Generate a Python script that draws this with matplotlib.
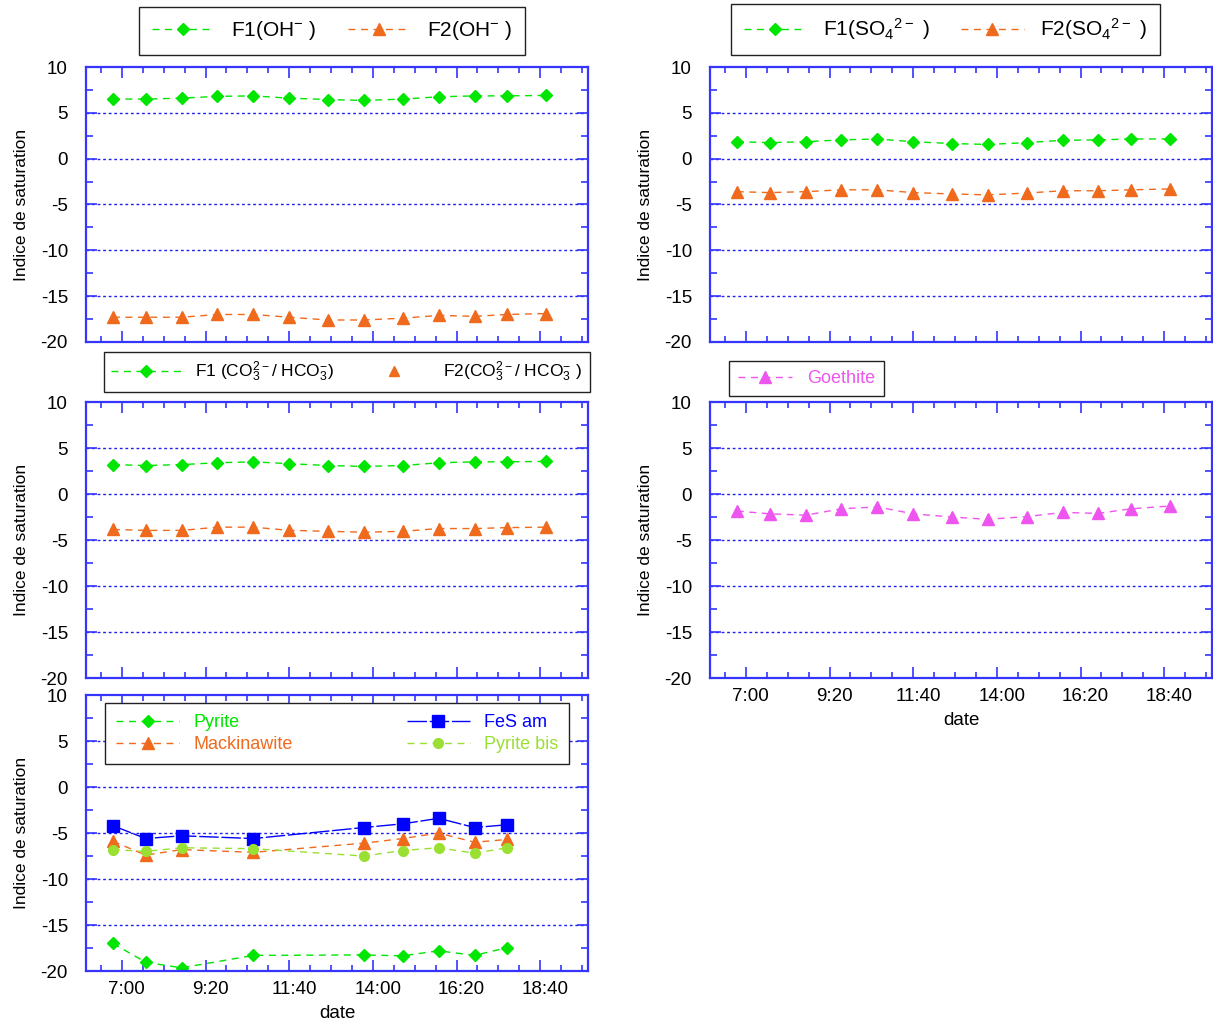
import numpy as np
import matplotlib
matplotlib.use("Agg")
import matplotlib.pyplot as plt
import matplotlib.transforms as mtrans
from matplotlib.ticker import MultipleLocator, FuncFormatter
from matplotlib.lines import Line2D

plt.rcParams['font.family'] = ['Liberation Sans', 'DejaVu Sans']
plt.rcParams['mathtext.fontset'] = 'custom'
plt.rcParams['mathtext.rm'] = 'Liberation Sans'
plt.rcParams['mathtext.default'] = 'regular'
plt.rcParams['axes.unicode_minus'] = False

# heures des prélèvements
heures = ["6:45", "7:40", "8:40", "9:40", "10:40", "11:40", "12:45",
          "13:45", "14:50", "15:50", "16:50", "17:45", "18:50"]
heures_sulfures = ["6:45", "7:40", "8:40", "10:40", "13:45",
                   "14:50", "15:50", "16:50", "17:45"]

# indices de saturation
f1_oh = [6.5, 6.5, 6.6, 6.8, 6.85, 6.6, 6.45, 6.35, 6.5, 6.75, 6.85, 6.85, 6.9]
f2_oh = [-17.3, -17.3, -17.3, -17.0, -17.0, -17.3, -17.6, -17.6, -17.4, -17.1, -17.2, -17.0, -16.9]
f1_so4 = [1.85, 1.75, 1.85, 2.05, 2.15, 1.85, 1.65, 1.55, 1.75, 2.0, 2.05, 2.15, 2.15]
f2_so4 = [-3.6, -3.7, -3.6, -3.4, -3.4, -3.7, -3.85, -3.95, -3.75, -3.5, -3.5, -3.4, -3.3]
f1_co3 = [3.2, 3.1, 3.2, 3.4, 3.5, 3.3, 3.1, 3.0, 3.1, 3.4, 3.5, 3.5, 3.55]
f2_co3 = [-3.85, -3.95, -3.95, -3.6, -3.6, -3.95, -4.05, -4.15, -4.05, -3.75, -3.75, -3.65, -3.6]
goethite = [-1.85, -2.15, -2.3, -1.6, -1.4, -2.15, -2.5, -2.75, -2.45, -2.0, -2.1, -1.6, -1.3]
pyrite = [-17.0, -19.05, -19.65, -18.3, -18.25, -18.35, -17.8, -18.3, -17.45]
mackinawite = [-5.9, -7.4, -6.8, -7.1, -6.1, -5.6, -5.0, -6.0, -5.7]
fes_am = [-4.2, -5.6, -5.3, -5.6, -4.4, -4.0, -3.4, -4.4, -4.1]
pyrite_bis = [-6.8, -7.0, -6.6, -6.7, -7.5, -6.9, -6.6, -7.2, -6.6]

VERT = '#00e600'
ORANGE = '#f06a1e'
BLEU = '#0000ff'
JAUNE = '#99e033'
VIOLET = '#ee55ee'
CADRE = '#3535ff'


def en_minutes(liste):
    return [int(h.split(":")[0]) * 60 + int(h.split(":")[1]) for h in liste]


def fmt_heure(x, pos):
    x = int(round(x))
    return f"{x // 60}:{x % 60:02d}"


t = en_minutes(heures)
ts = en_minutes(heures_sulfures)


def habiller(ax, labels_x=False):
    ax.set_xlim(360, 1200)
    ax.set_ylim(-20, 10)
    ax.xaxis.set_major_locator(MultipleLocator(140))
    ax.xaxis.set_minor_locator(MultipleLocator(35))
    ax.yaxis.set_major_locator(MultipleLocator(5))
    ax.yaxis.set_minor_locator(MultipleLocator(2.5))
    ax.xaxis.set_major_formatter(FuncFormatter(fmt_heure))
    ax.tick_params(which='both', direction='in', top=True, right=True,
                   color=CADRE, labelsize=13.5)
    ax.tick_params(which='major', length=8, width=1.2)
    ax.tick_params(which='minor', length=4, width=1.2)
    ax.tick_params(axis='y', which='minor', length=5)
    ax.tick_params(axis='y', pad=13)
    ax.tick_params(axis='x', pad=7)
    if not labels_x:
        ax.tick_params(axis='x', labelbottom=False)
    else:
        ax.set_xlabel("date", fontsize=13.5, labelpad=5)
        decal = mtrans.ScaledTranslation(5 / 100, 0, fig.dpi_scale_trans)
        for lab in ax.get_xticklabels():
            lab.set_transform(lab.get_transform() + decal)
    for s in ax.spines.values():
        s.set_color(CADRE)
        s.set_linewidth(1.6)
    for v in [5, 0, -5, -10, -15]:
        ax.axhline(v, color='#2020ee', lw=1, ls=(0, (2, 2)), zorder=0)
    ax.set_ylabel("Indice de saturation", fontsize=12.5, labelpad=8)


def leg(ax, handles, **kw):
    l = ax.legend(handles=handles, fancybox=False, edgecolor='#222222',
                  framealpha=1, borderaxespad=0, **kw)
    l.get_frame().set_linewidth(1.0)
    return l


fig = plt.figure(figsize=(12.13, 10.23), dpi=100)
ax1 = fig.add_axes([0.0709, 0.6657, 0.4139, 0.2688])
ax2 = fig.add_axes([0.5853, 0.6657, 0.4139, 0.2688])
ax3 = fig.add_axes([0.0709, 0.3372, 0.4139, 0.2698])
ax4 = fig.add_axes([0.5853, 0.3372, 0.4139, 0.2698])
ax5 = fig.add_axes([0.0709, 0.0508, 0.4139, 0.2698])

tiret = (0, (5, 4))

# OH-
l1, = ax1.plot(t, f1_oh, color=VERT, ls=tiret, lw=1, marker='D', ms=6.5, label='F1(OH$^{-}$ )')
l2, = ax1.plot(t, f2_oh, color=ORANGE, ls=tiret, lw=1, marker='^', ms=8, label='F2(OH$^{-}$ )')
habiller(ax1)
leg(ax1, [l1, l2], loc='lower center', bbox_to_anchor=(0.49, 1.044), ncol=2,
    fontsize=15, handlelength=3, columnspacing=1.5, borderpad=0.6)

# SO4 2-
l1, = ax2.plot(t, f1_so4, color=VERT, ls=tiret, lw=1, marker='D', ms=6.5, label='F1(SO$_4$$^{2-}$ )')
l2, = ax2.plot(t, f2_so4, color=ORANGE, ls=tiret, lw=1, marker='^', ms=8, label='F2(SO$_4$$^{2-}$ )')
habiller(ax2)
leg(ax2, [l1, l2], loc='lower center', bbox_to_anchor=(0.469, 1.044), ncol=2,
    fontsize=15, handlelength=3, columnspacing=1.5, borderpad=0.6)

# CO3 2- / HCO3-
l1, = ax3.plot(t, f1_co3, color=VERT, ls=tiret, lw=1, marker='D', ms=6.5, label='F1 (CO$_3^{2-}$/ HCO$_3^{-}$)')
ax3.plot(t, f2_co3, color=ORANGE, ls=tiret, lw=1, marker='^', ms=8)
l2 = Line2D([], [], color=ORANGE, ls='none', marker='^', ms=7,
            label='F2(CO$_3^{2-}$/ HCO$_3^{-}$ )')
habiller(ax3)
leg(ax3, [l1, l2], loc='lower center', bbox_to_anchor=(0.519, 1.036), ncol=2,
    fontsize=12.5, handlelength=4, columnspacing=1.5, borderpad=0.45)

# Goethite
l1, = ax4.plot(t, goethite, color=VIOLET, ls=tiret, lw=1, marker='^', ms=8, label='Goethite')
habiller(ax4, labels_x=True)
leg(ax4, [l1], loc='lower left', bbox_to_anchor=(0.038, 1.022), fontsize=13,
    handlelength=3, labelcolor='linecolor', borderpad=0.5)

# sulfures
l1, = ax5.plot(ts, pyrite, color=VERT, ls=tiret, lw=1, marker='D', ms=6, label='Pyrite')
l2, = ax5.plot(ts, mackinawite, color=ORANGE, ls=tiret, lw=1, marker='^', ms=8, label='Mackinawite')
l3, = ax5.plot(ts, fes_am, color=BLEU, ls=(0, (14, 2)), lw=1, marker='s', ms=8, label='FeS am')
l4, = ax5.plot(ts, pyrite_bis, color=JAUNE, ls=tiret, lw=1, marker='o', ms=7, label='Pyrite bis')
habiller(ax5, labels_x=True)
leg(ax5, [l1, l2, l3, l4], loc='upper left', bbox_to_anchor=(0.038, 0.971), ncol=2,
    fontsize=13, handlelength=3.5, columnspacing=6.3, labelcolor='linecolor',
    borderpad=0.6, labelspacing=0.3)

fig.savefig("out.png", dpi=100)
